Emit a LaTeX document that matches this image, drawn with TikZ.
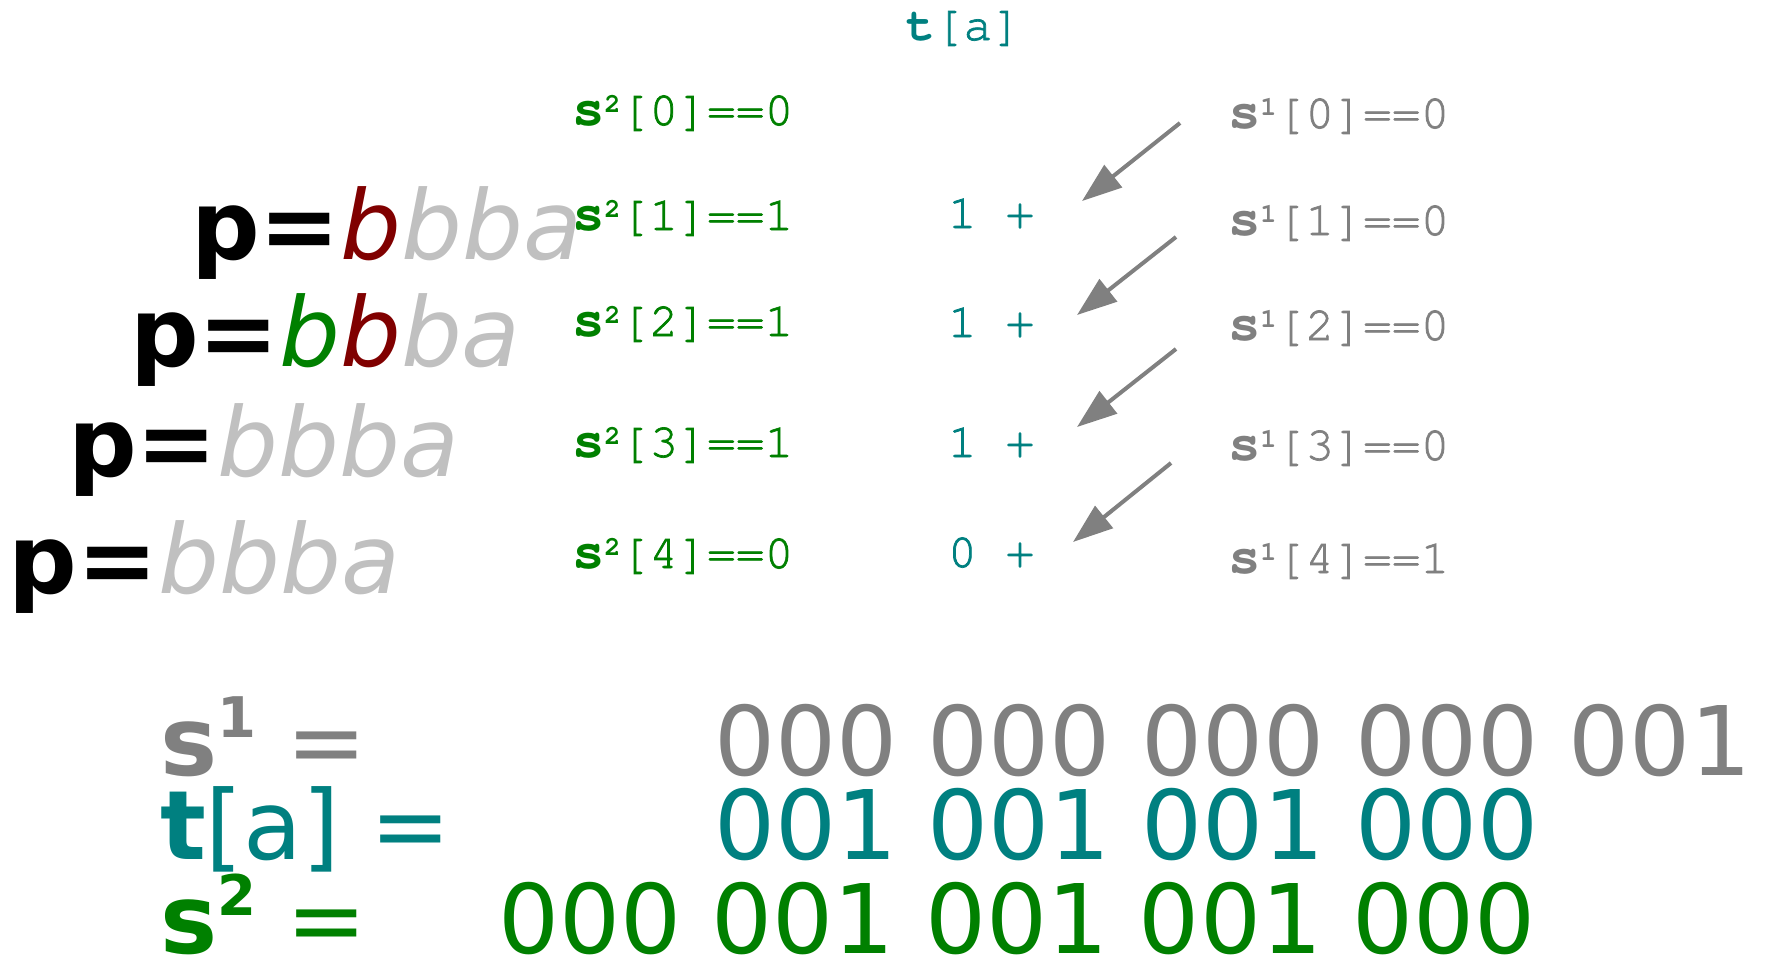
\documentclass[tikz,border=0pt]{standalone}
\usepackage{fontspec}
\setmainfont{DejaVu Sans}
\newfontfamily\cur{TeX Gyre Cursor}[FakeBold=1.5]
\newfontfamily\curb{texgyrecursor-bold.otf}
\usetikzlibrary{arrows.meta}
\definecolor{tealc}{RGB}{0,128,128}
\definecolor{greenc}{RGB}{0,128,0}
\definecolor{grayc}{RGB}{128,128,128}
\definecolor{lgrayc}{RGB}{192,192,192}
\definecolor{dredc}{RGB}{128,0,0}
\newcommand\bigf{\fontsize{96}{96}\selectfont}
\newcommand\monof{\cur\fontsize{48}{48}\selectfont}
\newcommand\sm{{\curb\fontsize{54}{54}\selectfont s}}
\newcommand\tm{{\curb\fontsize{48}{48}\selectfont t}}
\newcommand\supm[1]{\raisebox{13pt}{\curb\fontsize{27}{27}\selectfont #1}}
\newcommand\supb[1]{\raisebox{38pt}{\fontsize{56}{56}\selectfont\bfseries #1}}
\begin{document}
\begin{tikzpicture}[x=1pt,y=-1pt,
  txt/.style={anchor=base west,inner sep=0pt,outer sep=0pt},
  big/.style={txt,font=\bigf},
  mono/.style={txt,font=\monof},
  arr/.style={draw=grayc,line width=4pt,-{Triangle[length=40pt,width=28pt]}}]
\useasboundingbox (0,0) rectangle (1766,959);
% left p lines
\node[big] (p1) at (191,259) {\textbf{p=}\textit{\textcolor{dredc}{b}\textcolor{lgrayc}{bba}}};
\node[big] (p2) at (130,366) {\textbf{p=}\textit{\textcolor{greenc}{b}\textcolor{dredc}{b}\textcolor{lgrayc}{ba}}};
\node[big] (p3) at (68,476) {\textbf{p=}\textit{\textcolor{lgrayc}{bbba}}};
\node[big] (p4) at (9,593) {\textbf{p=}\textit{\textcolor{lgrayc}{bbba}}};
% header
\node[mono,text=tealc] (ta) at (906,40) {\tm[a]};
% green column
\node[mono,text=greenc] (g0) at (572,125) {\sm\supm{2}[0]==0};
\node[mono,text=greenc] (g1) at (572,230) {\sm\supm{2}[1]==1};
\node[mono,text=greenc] (g2) at (572,336) {\sm\supm{2}[2]==1};
\node[mono,text=greenc] (g3) at (572,457) {\sm\supm{2}[3]==1};
\node[mono,text=greenc] (g4) at (572,568) {\sm\supm{2}[4]==0};
% teal column
\node[mono,text=tealc] (t1) at (948,228) {1 +};
\node[mono,text=tealc] (t2) at (948,337) {1 +};
\node[mono,text=tealc] (t3) at (948,457) {1 +};
\node[mono,text=tealc] (t4) at (948,567) {0 +};
% gray column
\node[mono,text=grayc] (s0) at (1228,128) {\sm\supm{1}[0]==0};
\node[mono,text=grayc] (s1) at (1228,235) {\sm\supm{1}[1]==0};
\node[mono,text=grayc] (s2) at (1228,340) {\sm\supm{1}[2]==0};
\node[mono,text=grayc] (s3) at (1228,460) {\sm\supm{1}[3]==0};
\node[mono,text=grayc] (s4) at (1228,573) {\sm\supm{1}[4]==1};
% arrows
\coordinate (a1s) at (1180,123); \coordinate (a1e) at (1082,201);
\coordinate (a2s) at (1176,237); \coordinate (a2e) at (1077,315);
\coordinate (a3s) at (1176,349); \coordinate (a3e) at (1077,427);
\coordinate (a4s) at (1171,463); \coordinate (a4e) at (1073,542);
\draw[arr] (a1s) -- (a1e);
\draw[arr] (a2s) -- (a2e);
\draw[arr] (a3s) -- (a3e);
\draw[arr] (a4s) -- (a4e);
% bottom
\node[big,text=grayc] (L1) at (160,775) {\textbf{s}\supb{1} =};
\node[big,text=grayc] (D1) at (714,775) {000 000 000 000 001};
\node[big,text=tealc] (L2) at (160,859) {\textbf{t}[a] =};
\node[big,text=tealc] (D2) at (714,859) {001 001 001 000};
\node[big,text=greenc] (L3) at (160,953) {\textbf{s}\supb{2} =};
\node[big,text=greenc] (D3) at (498,953) {000 001 001 001 000};
\end{tikzpicture}
\end{document}
